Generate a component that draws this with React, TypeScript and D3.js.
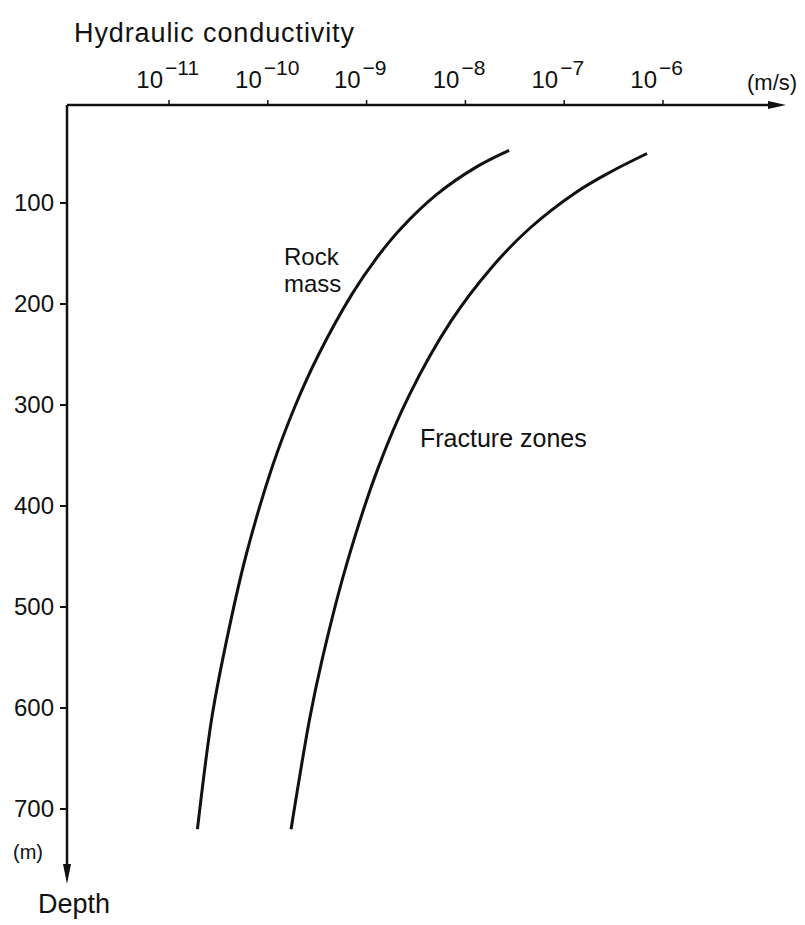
import React from "react"
import * as d3 from "d3"

// depth (m) and hydraulic conductivity (m/s)
const rockDepth = [48, 65, 92, 125, 155, 190, 250, 300, 360, 450, 540, 610, 720]
const rockK = [2.77e-8, 1.26e-8, 5.06e-9, 2.24e-9, 1.25e-9, 7.14e-10, 3.27e-10, 1.91e-10, 1.12e-10, 5.98e-11, 3.7e-11, 2.71e-11, 1.94e-11]

const fracDepth = [51, 70, 90, 125, 165, 217, 290, 363, 460, 554, 610, 720]
const fracK = [6.9e-7, 2.85e-7, 1.29e-7, 4.48e-8, 1.8e-8, 7.15e-9, 2.71e-9, 1.3e-9, 6.18e-10, 3.51e-10, 2.66e-10, 1.72e-10]

const kTicks = [1e-11, 1e-10, 1e-9, 1e-8, 1e-7, 1e-6]
const depthTicks = [100, 200, 300, 400, 500, 600, 700]

const font = "'Liberation Sans', Arial, sans-serif"

export default function App() {
  const x = d3.scaleLog().domain([1e-11, 1e-6]).range([169, 663])
  const y = d3.scaleLinear().domain([0, 700]).range([102, 809])

  const line = d3.line<[number, number]>()
    .x(d => x(d[1]))
    .y(d => y(d[0]))
    .curve(d3.curveCatmullRom.alpha(0.5))

  const rock = line(rockDepth.map((d, i) => [d, rockK[i]]))
  const frac = line(fracDepth.map((d, i) => [d, fracK[i]]))

  const axisY = 105
  const axisX = 67

  return (
    <svg width={805} height={925} style={{ position: "absolute", left: 0, top: 0, background: "#fff" }}
      fontFamily={font} fill="#111">
      <text x={74} y={42} fontSize={27} letterSpacing={0.9}>Hydraulic conductivity</text>

      {/* top axis */}
      <line x1={axisX} x2={772} y1={axisY} y2={axisY} stroke="#111" strokeWidth={2.5} />
      <path d={`M768,${axisY - 4}L786,${axisY}L768,${axisY + 4}Z`} fill="#111" />
      {kTicks.map(t => (
        <g key={t} transform={`translate(${x(t)},0)`}>
          <line y1={axisY} y2={axisY - 5} stroke="#111" strokeWidth={1.5} />
          <text x={-6} y={88} fontSize={24} textAnchor="end">10</text>
          <text x={-4} y={75} fontSize={21}>{"\u2212" + Math.round(-Math.log10(t))}</text>
        </g>
      ))}
      <text x={747} y={90} fontSize={22}>(m/s)</text>

      {/* depth axis */}
      <line x1={axisX} x2={axisX} y1={axisY} y2={868} stroke="#111" strokeWidth={2.5} />
      <path d={`M${axisX - 4},864L${axisX},884L${axisX + 4},864Z`} fill="#111" />
      {depthTicks.map(t => (
        <g key={t} transform={`translate(0,${y(t)})`}>
          <line x1={axisX} x2={axisX - 7} stroke="#111" strokeWidth={2} />
          <text x={54} dy="0.35em" fontSize={24} textAnchor="end">{t}</text>
        </g>
      ))}
      <text x={13} y={859} fontSize={20}>(m)</text>
      <text x={38} y={913} fontSize={27}>Depth</text>

      {/* curves */}
      <path d={rock ?? ""} fill="none" stroke="#111" strokeWidth={3} />
      <path d={frac ?? ""} fill="none" stroke="#111" strokeWidth={3} />

      <text x={284} y={265} fontSize={24}>Rock</text>
      <text x={284} y={292} fontSize={24}>mass</text>
      <text x={420} y={447} fontSize={25}>Fracture zones</text>
    </svg>
  )
}
